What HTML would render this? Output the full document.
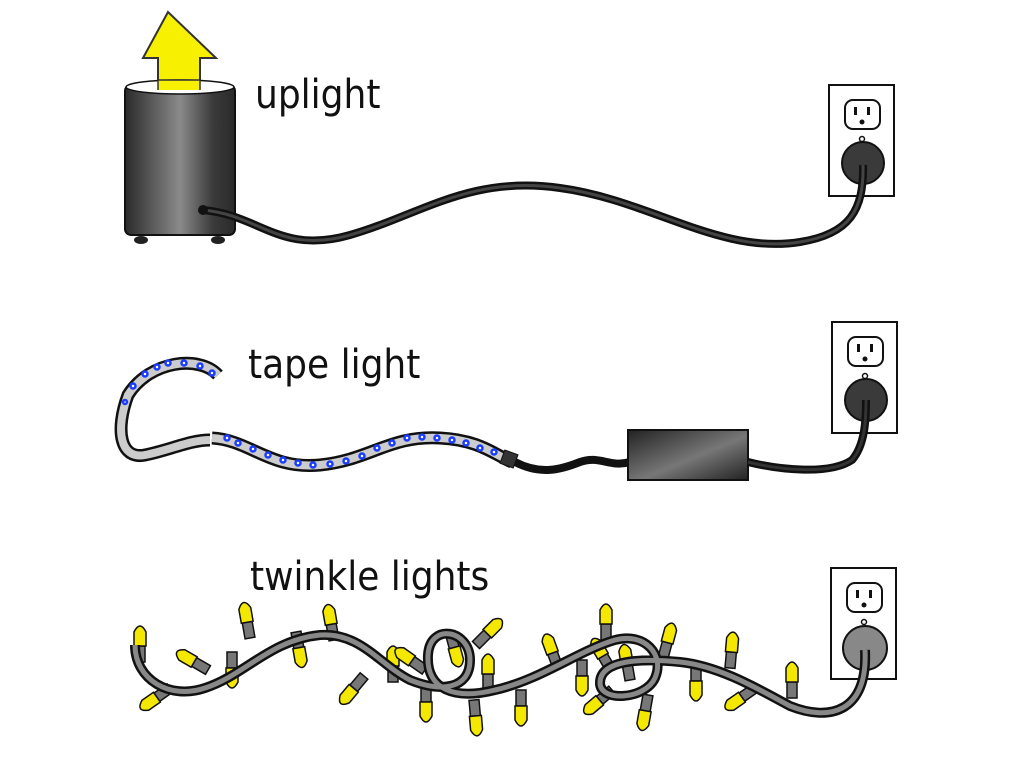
<!DOCTYPE html>
<html><head><meta charset="utf-8"><style>
html,body{margin:0;padding:0;background:#fff;}
svg{display:block}
text{font-family:"DejaVu Sans Condensed","Liberation Sans",sans-serif;font-size:40px;fill:#111;}
</style></head><body>
<svg width="1024" height="768" viewBox="0 0 1024 768" xmlns="http://www.w3.org/2000/svg">
<defs>
<linearGradient id="cyl" x1="0" x2="1">
<stop offset="0" stop-color="#2a2a2a"/><stop offset="0.5" stop-color="#8a8a8a"/><stop offset="0.8" stop-color="#3a3a3a"/><stop offset="1" stop-color="#2a2a2a"/>
</linearGradient>
<linearGradient id="box" x1="0" y1="0" x2="1" y2="1">
<stop offset="0" stop-color="#222"/><stop offset="0.55" stop-color="#777"/><stop offset="1" stop-color="#222"/>
</linearGradient>
<g id="bulb">
<rect x="-5" y="-16" width="10" height="16" fill="#777" stroke="#111" stroke-width="1.5"/>
<path d="M-6,-16 L-6,-30 Q0,-42 6,-30 L6,-16 Z" fill="#f5e800" stroke="#111" stroke-width="1.5"/>
</g>
<g id="outlet">
<rect x="0" y="0" width="65" height="111" fill="#fff" stroke="#111" stroke-width="2"/>
<rect x="16" y="15" width="35" height="29" rx="8" fill="#fff" stroke="#111" stroke-width="2"/>
<rect x="25" y="22" width="3" height="8" fill="#111"/><rect x="38" y="22" width="3" height="8" fill="#111"/>
<circle cx="33" cy="37" r="2.5" fill="#111"/>
<circle cx="33" cy="54" r="2.5" fill="none" stroke="#111" stroke-width="1.5"/>
</g>
</defs>

<!-- uplight -->
<path d="M168,12 L143,58 L158,58 L158,88 L200,88 L200,58 L216,58 Z" fill="#f7f000" stroke="#333" stroke-width="2"/>
<rect x="125" y="85" width="110" height="150" rx="6" fill="url(#cyl)" stroke="#111" stroke-width="2"/>
<ellipse cx="180" cy="87" rx="54" ry="7" fill="#fff" stroke="#111" stroke-width="1.5"/>
<path d="M158,90 L158,80 L200,80 L200,90" fill="#f7f000" stroke="#333" stroke-width="1.5"/>
<ellipse cx="141" cy="240" rx="7" ry="4" fill="#222"/><ellipse cx="218" cy="240" rx="7" ry="4" fill="#222"/>
<use href="#outlet" x="829" y="85"/>
<circle cx="863" cy="163" r="21" fill="#3a3a3a" stroke="#111" stroke-width="2"/>
<path d="M203,210 C260,215 280,255 350,235 C420,215 470,175 560,188 C650,200 720,255 800,242 C850,234 864,210 863,165" fill="none" stroke="#111" stroke-width="8"/>
<path d="M203,210 C260,215 280,255 350,235 C420,215 470,175 560,188 C650,200 720,255 800,242 C850,234 864,210 863,165" fill="none" stroke="#444" stroke-width="3"/>
<circle cx="203" cy="210" r="5" fill="#111"/>
<text x="255" y="108">uplight</text>

<!-- tape light -->
<path d="M218,375 C200,355 150,360 128,395 C115,430 120,460 145,455 C170,450 190,440 210,440" fill="none" stroke="#111" stroke-width="13"/>
<path d="M218,375 C200,355 150,360 128,395 C115,430 120,460 145,455 C170,450 190,440 210,440" fill="none" stroke="#ccc" stroke-width="8"/>
<path d="M212,438 C250,440 270,470 320,465 C370,460 390,435 440,438 C480,440 495,455 512,462" fill="none" stroke="#111" stroke-width="13"/>
<path d="M212,438 C250,440 270,470 320,465 C370,460 390,435 440,438 C480,440 495,455 512,462" fill="none" stroke="#ccc" stroke-width="8"/>
<g fill="#fff" stroke="#1a3cff" stroke-width="2.5">
<circle cx="212" cy="373" r="2.5"/><circle cx="200" cy="366" r="2.5"/><circle cx="184" cy="363" r="2.5"/><circle cx="168" cy="363" r="2.5"/><circle cx="157" cy="367" r="2.5"/><circle cx="145" cy="374" r="2.5"/><circle cx="133" cy="386" r="2.5"/><circle cx="125" cy="402" r="2"/>
<circle cx="227" cy="438" r="2.5"/><circle cx="238" cy="443" r="2.5"/><circle cx="253" cy="449" r="2.5"/><circle cx="268" cy="455" r="2.5"/><circle cx="283" cy="460" r="2.5"/><circle cx="298" cy="463" r="2.5"/><circle cx="313" cy="465" r="2.5"/><circle cx="330" cy="464" r="2.5"/><circle cx="346" cy="461" r="2.5"/><circle cx="362" cy="456" r="2.5"/><circle cx="377" cy="448" r="2.5"/><circle cx="392" cy="443" r="2.5"/><circle cx="407" cy="438" r="2.5"/><circle cx="422" cy="437" r="2.5"/><circle cx="437" cy="438" r="2.5"/><circle cx="452" cy="440" r="2.5"/><circle cx="466" cy="443" r="2.5"/><circle cx="480" cy="448" r="2.5"/><circle cx="494" cy="452" r="2.5"/>
</g>
<path d="M515,462 C540,475 560,470 580,462 C600,455 610,468 630,462" fill="none" stroke="#111" stroke-width="8"/>
<rect x="502" y="452" width="14" height="14" fill="#333" stroke="#111" transform="rotate(20 509 459)"/>
<rect x="628" y="430" width="120" height="50" fill="url(#box)" stroke="#111" stroke-width="2"/>
<text x="248" y="378">tape light</text>
<use href="#outlet" x="832" y="322"/>
<circle cx="866" cy="400" r="21" fill="#3a3a3a" stroke="#111" stroke-width="2"/>
<path d="M748,462 C780,470 830,475 852,460 C865,445 866,420 866,400" fill="none" stroke="#111" stroke-width="8"/>
<path d="M748,462 C780,470 830,475 852,460 C865,445 866,420 866,400" fill="none" stroke="#333" stroke-width="3"/>

<!-- twinkle lights -->
<text x="250" y="590">twinkle lights</text>
<use href="#outlet" x="831" y="568"/>
<circle cx="865" cy="648" r="22" fill="#888" stroke="#111" stroke-width="2"/>
<g>
<use href="#bulb" transform="translate(140,662) rotate(0)"/>
<use href="#bulb" transform="translate(208,670) rotate(-60)"/>
<use href="#bulb" transform="translate(170,688) rotate(-125)"/>
<use href="#bulb" transform="translate(232,652) rotate(180)"/>
<use href="#bulb" transform="translate(250,638) rotate(-10)"/>
<use href="#bulb" transform="translate(296,632) rotate(170)"/>
<use href="#bulb" transform="translate(334,640) rotate(-10)"/>
<use href="#bulb" transform="translate(364,676) rotate(-140)"/>
<use href="#bulb" transform="translate(393,682) rotate(0)"/>
<use href="#bulb" transform="translate(425,670) rotate(-55)"/>
<use href="#bulb" transform="translate(426,686) rotate(180)"/>
<use href="#bulb" transform="translate(450,632) rotate(165)"/>
<use href="#bulb" transform="translate(476,645) rotate(45)"/>
<use href="#bulb" transform="translate(488,690) rotate(0)"/>
<use href="#bulb" transform="translate(474,700) rotate(175)"/>
<use href="#bulb" transform="translate(521,690) rotate(180)"/>
<use href="#bulb" transform="translate(558,668) rotate(-20)"/>
<use href="#bulb" transform="translate(582,660) rotate(180)"/>
<use href="#bulb" transform="translate(606,640) rotate(0)"/>
<use href="#bulb" transform="translate(611,670) rotate(-30)"/>
<use href="#bulb" transform="translate(630,680) rotate(-10)"/>
<use href="#bulb" transform="translate(612,690) rotate(-130)"/>
<use href="#bulb" transform="translate(648,695) rotate(190)"/>
<use href="#bulb" transform="translate(663,658) rotate(15)"/>
<use href="#bulb" transform="translate(696,665) rotate(180)"/>
<use href="#bulb" transform="translate(730,668) rotate(5)"/>
<use href="#bulb" transform="translate(755,688) rotate(-125)"/>
<use href="#bulb" transform="translate(792,698) rotate(0)"/>
</g>
<path d="M135,645 C135,680 170,700 205,688 C245,675 270,640 320,635 C360,632 380,665 410,680 C440,692 470,690 470,660 C470,630 430,622 428,655 C426,690 455,700 495,690 C540,680 580,650 615,640 C645,632 665,655 655,678 C645,700 600,702 600,683 C600,660 640,658 680,662 C720,666 760,690 790,706 C830,722 868,712 865,650" fill="none" stroke="#111" stroke-width="10"/>
<path d="M135,645 C135,680 170,700 205,688 C245,675 270,640 320,635 C360,632 380,665 410,680 C440,692 470,690 470,660 C470,630 430,622 428,655 C426,690 455,700 495,690 C540,680 580,650 615,640 C645,632 665,655 655,678 C645,700 600,702 600,683 C600,660 640,658 680,662 C720,666 760,690 790,706 C830,722 868,712 865,650" fill="none" stroke="#888" stroke-width="5"/>
</svg>
</body></html>
